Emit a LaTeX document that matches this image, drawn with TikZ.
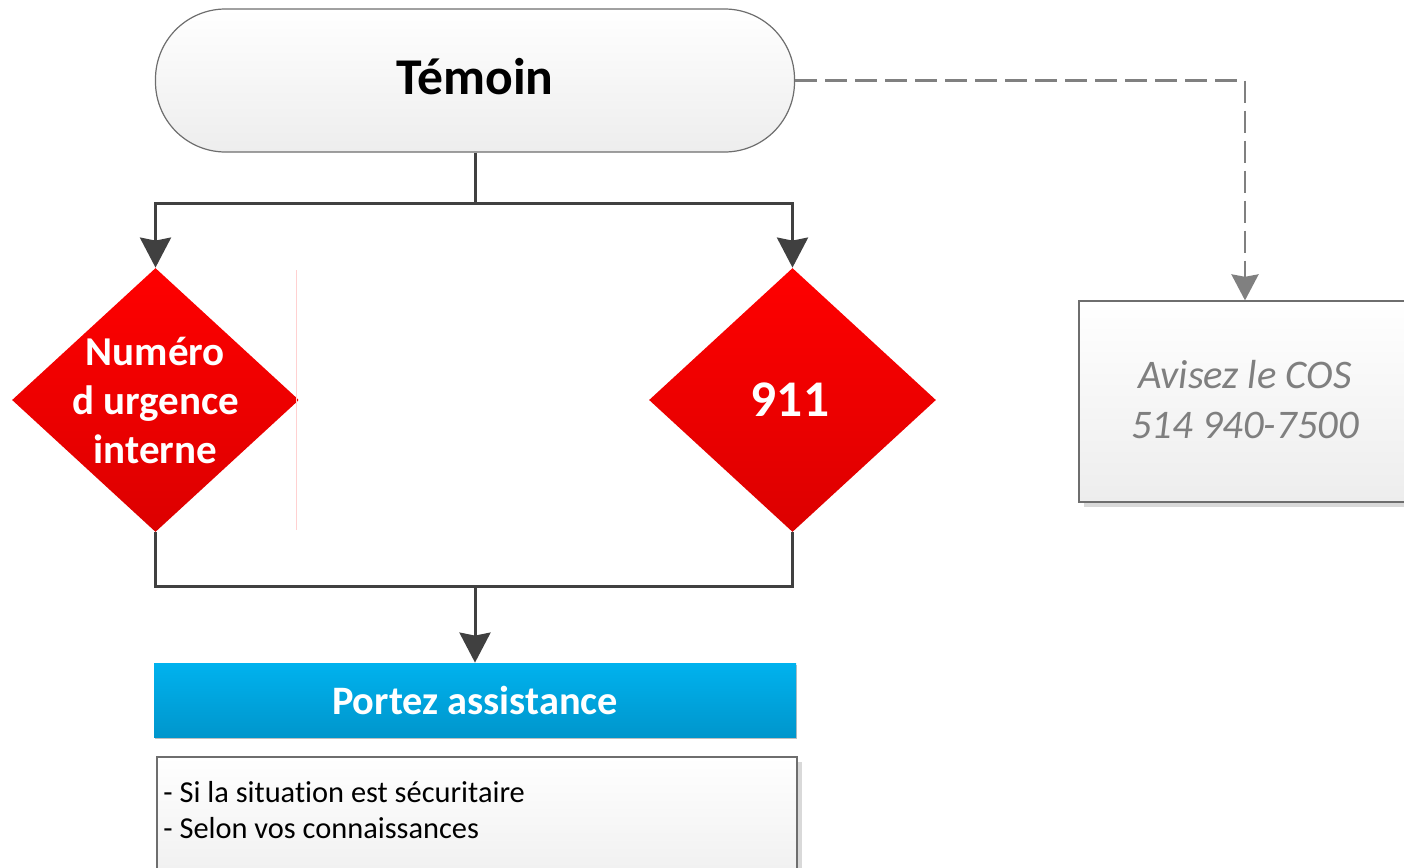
\documentclass[tikz,border=0pt]{standalone}
\usepackage{fontspec}
\setmainfont{Carlito}[Ligatures=NoCommon]
\usetikzlibrary{arrows.meta,shapes.geometric,shadows}
\definecolor{lineg}{HTML}{404040}
\definecolor{dashg}{HTML}{808080}
\definecolor{bordg}{HTML}{6E6E6E}
\definecolor{boxtop}{HTML}{FFFFFF}
\definecolor{boxbot}{HTML}{EDEDED}
\definecolor{redtop}{HTML}{FF0000}
\definecolor{redbot}{HTML}{DC0000}
\definecolor{bluetop}{HTML}{00B2EE}
\definecolor{bluebot}{HTML}{0096CC}
\definecolor{costext}{HTML}{7F7F7F}
\tikzset{
  terminal/.style={rectangle, rounded corners=35pt, draw=bordg, line width=0.6pt,
    top color=boxtop, bottom color=boxbot, minimum width=319.5pt, minimum height=71.5pt,
    inner sep=0pt},
  termtext/.style={font=\fontsize{25.8}{30}\selectfont\bfseries, inner sep=0pt},
  decision/.style={diamond, top color=redtop, bottom color=redbot, draw=none,
    minimum width=143.5pt, minimum height=132pt, inner sep=0pt},
  dectext/.style={align=center, text=white, font=\fontsize{20.5}{24.5}\selectfont\bfseries},
  actionbox/.style={rectangle, top color=bluetop, bottom color=bluebot, draw=none,
    minimum width=321pt, minimum height=37pt, inner sep=0pt,
    drop shadow={shadow xshift=0.6pt, shadow yshift=-0.8pt, fill=black!25, opacity=1},
    text=white, font=\fontsize{20.2}{24}\selectfont\bfseries},
  notebox/.style={rectangle, draw=bordg, line width=0.6pt, top color=boxtop, bottom color=boxbot,
    inner sep=0pt,
    drop shadow={shadow xshift=2.5pt, shadow yshift=-2.5pt, fill=black!15, opacity=1}},
  conn/.style={draw=lineg, line width=1.5pt},
  connarrow/.style={conn, -{Stealth[length=15pt, width=15.5pt, inset=1.5pt]}},
  cosline/.style={draw=dashg, line width=1.4pt, dash pattern=on 11pt off 4pt,
    -{Stealth[length=13pt, width=13.5pt, inset=1.2pt]}},
}
\begin{document}
\begin{tikzpicture}[x=0.5pt, y=-0.5pt]
\useasboundingbox (0,0) rectangle (1404,868);
\clip (0,0) rectangle (1404,868);

% nodes
\node[terminal] (tem) at (475,80.5) {};
\node[termtext] at (475,77) {Témoin};
\node[decision] (dl) at (155.5,400) {};
\node[dectext] at (dl.center) {Numéro\\d urgence\\interne};
\node[decision] (dr) at (792.5,400) {};
\node[dectext, font=\fontsize{25.7}{30}\selectfont\bfseries] at (790,400) {911};
\node[actionbox] (pa) at (475,700) {Portez assistance};
\node[notebox, minimum width=320pt, minimum height=71.5pt] (note) at (477,828.5) {};
\node[anchor=west, align=left, inner sep=0pt, font=\fontsize{15.2}{18}\selectfont] (notetext) at (163,810)
  {- Si la situation est sécuritaire\\- Selon vos connaissances};
\node[notebox, minimum width=166pt, minimum height=100.5pt] (cos) at (1245,401.5) {};
\node[text=costext, font=\fontsize{20.3}{25}\selectfont\itshape, align=center, inner sep=0pt]
  at (1245,399.5) {Avisez le COS\\514 940-7500};

% faint artifact line
\draw[red!18, line width=0.4pt] (296,270) -- (296,530);

% connectors
\coordinate (split) at (475,203);
\coordinate (join) at (475,586);
\draw[connarrow] (tem.south) -- (split) -| (dl.north);
\draw[connarrow] (split) -| (dr.north);
\draw[conn] (dl.south) |- (join) -| (dr.south);
\draw[connarrow] (join) -- (pa.north);
\draw[cosline] (tem.east) -| (cos.north);
\end{tikzpicture}
\end{document}
